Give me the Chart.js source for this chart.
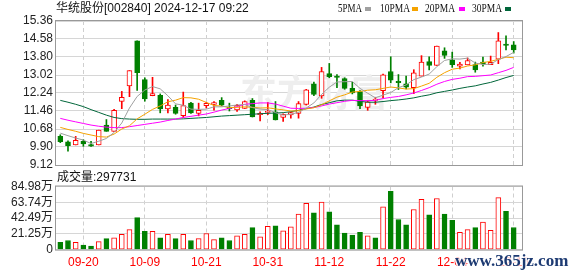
<!DOCTYPE html>
<html lang="zh-CN">
<head>
<meta charset="UTF-8">
<title>华统股份 K线</title>
<script src="https://cdn.jsdelivr.net/npm/chart.js@4"></script>
<style>
  html, body { margin: 0; padding: 0; background: #fff; }
  #wrap { position: relative; width: 578px; height: 276px; overflow: hidden; }
  #priceChart { position: absolute; left: 0; top: 0; }
  #volChart { position: absolute; left: 0; top: 170px; }
</style>
</head>
<body>
<div id="wrap">
  <canvas id="priceChart" width="578" height="176"></canvas>
  <canvas id="volChart" width="578" height="106"></canvas>
</div>
<script>
  // K线数据
  const opens = [10.36,10.12,9.99,10.15,10.00,9.99,10.85,10.58,11.87,12.55,
    14.50,12.82,12.12,12.14,11.55,11.62,11.26,11.80,11.36,11.69,
    11.75,11.92,11.62,11.51,11.57,11.92,11.30,11.40,11.42,11.18,
    11.29,11.35,11.75,12.64,12.11,13.08,12.97,12.87,12.44,12.30,
    11.61,11.92,12.34,13.17,12.75,12.64,12.47,12.97,13.60,13.44,
    14.07,13.68,13.40,13.46,13.47,13.58,13.47,13.71,14.36,14.33];
  const highs = [10.43,10.17,10.36,10.22,10.15,10.63,11.09,11.53,12.31,13.21,
    14.50,12.90,12.92,12.20,11.95,11.72,12.28,11.84,11.80,11.84,
    11.87,12.04,11.80,11.75,11.90,12.00,11.42,11.83,11.87,11.34,
    11.41,11.87,12.40,12.71,13.35,13.52,13.04,12.90,12.71,12.35,
    11.90,12.04,13.06,13.81,13.04,12.97,13.25,13.86,13.81,14.27,
    14.20,14.01,13.57,13.76,13.58,13.80,13.84,14.86,14.72,14.47];
  const lows = [10.09,9.72,9.99,9.93,9.93,9.99,10.58,10.58,11.56,12.08,
    12.35,11.89,12.12,11.38,11.38,11.32,11.18,11.36,11.25,11.59,
    11.50,11.68,11.46,11.44,11.57,11.20,11.03,11.30,11.07,11.01,
    11.15,11.15,11.72,12.12,12.01,12.90,12.47,12.40,12.20,11.56,
    11.49,11.75,12.04,12.68,12.39,12.42,12.21,12.97,13.24,13.44,
    13.74,13.35,13.28,13.46,13.14,13.40,13.47,13.51,14.11,13.97];
  const closes = [10.13,9.96,10.19,10.03,9.94,10.63,10.58,11.49,12.05,13.21,
    13.12,11.98,12.22,11.55,11.72,11.36,11.69,11.38,11.49,11.79,
    11.83,11.71,11.56,11.71,11.87,11.20,11.36,11.44,11.07,11.32,
    11.39,11.78,12.38,12.18,13.17,12.95,12.91,12.44,12.24,11.68,
    11.86,11.95,13.03,12.80,12.69,12.49,13.11,13.58,13.43,14.27,
    13.87,13.47,13.49,13.65,13.24,13.51,13.57,14.50,14.30,14.11];

  // 均线
  const ma5 = [10.50,10.39,10.29,10.20,10.05,10.15,10.27,10.53,10.94,11.59,
    12.09,12.37,12.52,12.42,12.12,11.77,11.71,11.54,11.53,11.54,
    11.64,11.64,11.68,11.72,11.74,11.61,11.54,11.52,11.39,11.28,
    11.32,11.40,11.59,11.81,12.18,12.49,12.72,12.73,12.74,12.44,
    12.23,12.03,12.15,12.26,12.47,12.59,12.82,12.93,13.06,13.38,
    13.65,13.72,13.71,13.75,13.54,13.47,13.49,13.69,13.82,14.00];
  const ma10 = [10.75,10.66,10.58,10.49,10.42,10.35,10.33,10.46,10.68,10.82,
    11.12,11.32,11.53,11.68,11.86,11.93,12.04,12.03,11.97,11.83,
    11.70,11.67,11.61,11.62,11.64,11.62,11.59,11.60,11.55,11.51,
    11.46,11.47,11.55,11.60,11.73,11.90,12.06,12.16,12.28,12.31,
    12.36,12.38,12.44,12.50,12.46,12.41,12.43,12.54,12.66,12.92,
    13.12,13.27,13.32,13.41,13.46,13.56,13.61,13.70,13.79,13.77];
  const ma20 = [11.14,11.06,10.99,10.92,10.85,10.80,10.76,10.74,10.74,10.78,
    10.83,10.88,10.93,10.98,11.05,11.11,11.18,11.23,11.28,11.33,
    11.41,11.50,11.57,11.65,11.75,11.78,11.81,11.81,11.76,11.67,
    11.58,11.57,11.58,11.61,11.68,11.76,11.82,11.88,11.92,11.91,
    11.91,11.92,12.00,12.05,12.09,12.16,12.24,12.35,12.47,12.62,
    12.74,12.83,12.88,12.95,12.96,12.99,13.02,13.12,13.22,13.35];
  const ma30 = [11.92,11.84,11.75,11.65,11.52,11.40,11.28,11.18,11.13,11.11,
    11.10,11.10,11.11,11.11,11.11,11.11,11.12,11.14,11.16,11.18,
    11.21,11.24,11.26,11.28,11.30,11.32,11.34,11.36,11.37,11.39,
    11.43,11.49,11.56,11.63,11.74,11.82,11.90,11.93,11.93,11.88,
    11.84,11.84,11.87,11.91,11.94,11.98,12.03,12.10,12.16,12.25,
    12.31,12.37,12.44,12.50,12.55,12.63,12.70,12.80,12.91,13.00];

  // 成交量（万）
  const volumes = [9.8,12.3,9.8,6.1,4.9,10.7,14.7,16.0,20.5,27.0,
    43.0,24.6,24.6,16.0,20.5,14.7,20.5,12.3,14.7,21.7,
    13.5,16.0,12.3,18.4,20.5,29.5,17.2,31.5,31.9,25.4,
    30.7,48.0,62.2,49.5,63.9,50.7,33.2,22.1,19.7,23.3,
    18.4,16.0,57.7,78.6,40.5,33.2,54.0,67.6,46.7,68.8,
    48.0,39.3,23.3,27.0,29.5,36.9,25.8,70.0,51.6,29.77];
  const volUp = [0,0,1,0,0,1,0,1,1,1, 0,0,1,0,1,0,1,0,1,1,
    1,0,0,1,1,0,1,1,0,1, 1,1,1,0,1,0,0,0,0,0,
    1,0,1,0,0,0,1,1,0,1, 0,0,1,1,0,1,1,1,0,0];

  const dateIdx = [3, 11, 19, 27, 35, 43, 51, 59];
  const dateLabels = ['09-20', '10-09', '10-21', '10-31', '11-12', '11-22', '12-04', '12-16'];
  const priceTicks = [9.12, 9.90, 10.68, 11.46, 12.24, 13.02, 13.80, 14.58, 15.36];
  const priceTickLabels = ['9.12', '9.90', '10.68', '11.46', '12.24', '13.02', '13.80', '14.58', '15.36'];
  const volTicks = [0, 21.245, 42.49, 63.735, 84.98];
  const volTickLabels = ['0', '21.25万', '42.49万', '63.74万', '84.98万'];
  const maNames = ['5PMA', '10PMA', '20PMA', '30PMA'];
  const maColors = ['#a0a0a0', '#f5a300', '#ff00ff', '#00663a'];

  const UP = '#ff0000';
  const DOWN = '#008000';
  const X_MIN = -0.56, X_MAX = 60.08;
  const FONT = "'Liberation Sans', 'Noto Sans CJK SC', sans-serif";

  Chart.defaults.font.family = FONT;
  Chart.defaults.font.size = 12;
  Chart.defaults.animation = false;

  const isUp = i => closes[i] >= opens[i];

  function drawFrame(chart) {
    const { ctx, chartArea: a } = chart;
    ctx.save();
    ctx.strokeStyle = '#999';
    ctx.lineWidth = 1;
    ctx.strokeRect(a.left - 0.5, a.top - 0.5, a.right - a.left + 1, a.bottom - a.top + 1);
    ctx.restore();
  }

  const priceDecor = {
    id: 'priceDecor',
    beforeDatasetsDraw(chart) {
      const ctx = chart.ctx;
      ctx.save();
      ctx.fillStyle = '#eeeeee';
      ctx.font = "bold 37px 'Noto Sans CJK SC'";
      ctx.textBaseline = 'middle';
      ctx.fillText('东方财富', 240, 93);
      ctx.restore();
    },
    afterDraw(chart) {
      drawFrame(chart);
      const ctx = chart.ctx;
      ctx.save();
      ctx.fillStyle = '#111';
      ctx.textBaseline = 'middle';
      ctx.font = "12px 'Liberation Sans', 'Noto Sans CJK SC'";
      ctx.fillText('华统股份[002840] 2024-12-17 09:22', 56, 9);
      // 均线图例
      const textX = [338, 380, 425, 472];
      const boxX = [365, 412, 459, 505];
      ctx.font = "13px 'Liberation Serif'";
      maNames.forEach((name, k) => {
        ctx.fillStyle = '#111';
        ctx.fillText(name, textX[k], 9, name.length * 6);
        ctx.fillStyle = maColors[k];
        ctx.fillRect(boxX[k], 7, 6, 4);
      });
      ctx.restore();
    }
  };

  const volDecor = {
    id: 'volDecor',
    afterDraw(chart) {
      drawFrame(chart);
      const ctx = chart.ctx;
      ctx.save();
      ctx.fillStyle = '#111';
      ctx.textBaseline = 'middle';
      ctx.font = "12px 'Liberation Sans', 'Noto Sans CJK SC'";
      ctx.fillText('成交量:297731', 57, 7.5);
      ctx.font = "bold 17px 'Liberation Serif'";
      ctx.textBaseline = 'alphabetic';
      ctx.lineWidth = 3;
      ctx.strokeStyle = 'rgba(255,255,255,0.8)';
      ctx.strokeText('www.365jz.com', 455, 96);
      ctx.fillStyle = '#1d3a72';
      ctx.fillText('www.365jz.com', 455, 96);
      ctx.restore();
    }
  };

  const xScale = (showLabels) => ({
    type: 'linear',
    min: X_MIN,
    max: X_MAX,
    offset: false,
    afterBuildTicks: s => { s.ticks = dateIdx.map(v => ({ value: v })); },
    afterFit: s => { if (!showLabels) s.height = 0; },
    grid: { color: '#cfcfcf', drawTicks: false, offset: false },
    border: { display: false, dash: [4, 3] },
    ticks: {
      display: showLabels,
      autoSkip: false,
      maxRotation: 0,
      padding: 6,
      color: '#ff0000',
      callback: (v, i) => dateLabels[i]
    }
  });

  new Chart(document.getElementById('priceChart'), {
    data: {
      datasets: [
        ...[ma5, ma10, ma20, ma30].map((arr, k) => ({
          type: 'line',
          label: maNames[k],
          data: arr.map((v, i) => ({ x: i, y: v })),
          borderColor: maColors[k],
          borderWidth: 1,
          pointRadius: 0,
          tension: 0,
          order: 0
        })),
        {
          type: 'bar',
          label: 'body',
          data: opens.map((o, i) => ({ x: i, y: [o, closes[i]] })),
          backgroundColor: opens.map((o, i) => isUp(i) ? '#ffffff' : DOWN),
          borderColor: opens.map((o, i) => isUp(i) ? UP : DOWN),
          borderWidth: 1,
          borderSkipped: false,
          barThickness: 5,
          minBarLength: 1,
          grouped: false,
          order: 1
        },
        {
          type: 'bar',
          label: 'wick',
          data: lows.map((l, i) => ({ x: i, y: [l, highs[i]] })),
          backgroundColor: lows.map((l, i) => isUp(i) ? UP : DOWN),
          barThickness: 1,
          grouped: false,
          order: 2
        }
      ]
    },
    options: {
      responsive: false,
      events: [],
      layout: { padding: { top: 21, right: 56, bottom: 11, left: 0 } },
      plugins: { legend: { display: false }, tooltip: { enabled: false } },
      scales: {
        x: xScale(false),
        y: {
          min: 9.12,
          max: 15.36,
          afterBuildTicks: s => { s.ticks = priceTicks.map(v => ({ value: v })); },
          afterFit: s => { s.width = 56; },
          grid: { color: '#d6d6d6', drawTicks: false },
          border: { display: false },
          ticks: { autoSkip: false, padding: 3, color: '#222', callback: (v, i) => priceTickLabels[i] }
        }
      }
    },
    plugins: [priceDecor]
  });

  new Chart(document.getElementById('volChart'), {
    type: 'bar',
    data: {
      datasets: [{
        label: '成交量',
        data: volumes.map((v, i) => ({ x: i, y: v })),
        backgroundColor: volumes.map((v, i) => volUp[i] ? '#ffffff' : DOWN),
        borderColor: volumes.map((v, i) => volUp[i] ? UP : DOWN),
        borderWidth: 1,
        borderSkipped: false,
        barThickness: 5,
        grouped: false
      }]
    },
    options: {
      responsive: false,
      events: [],
      layout: { padding: { top: 16.5, right: 56, bottom: 0, left: 0 } },
      plugins: { legend: { display: false }, tooltip: { enabled: false } },
      scales: {
        x: xScale(true),
        y: {
          min: 0,
          max: 84.98,
          afterBuildTicks: s => { s.ticks = volTicks.map(v => ({ value: v })); },
          afterFit: s => { s.width = 56; },
          grid: { color: '#d6d6d6', drawTicks: false },
          border: { display: false },
          ticks: { autoSkip: false, padding: 3, color: '#222', callback: (v, i) => volTickLabels[i] }
        }
      }
    },
    plugins: [volDecor]
  });
</script>
</body>
</html>
